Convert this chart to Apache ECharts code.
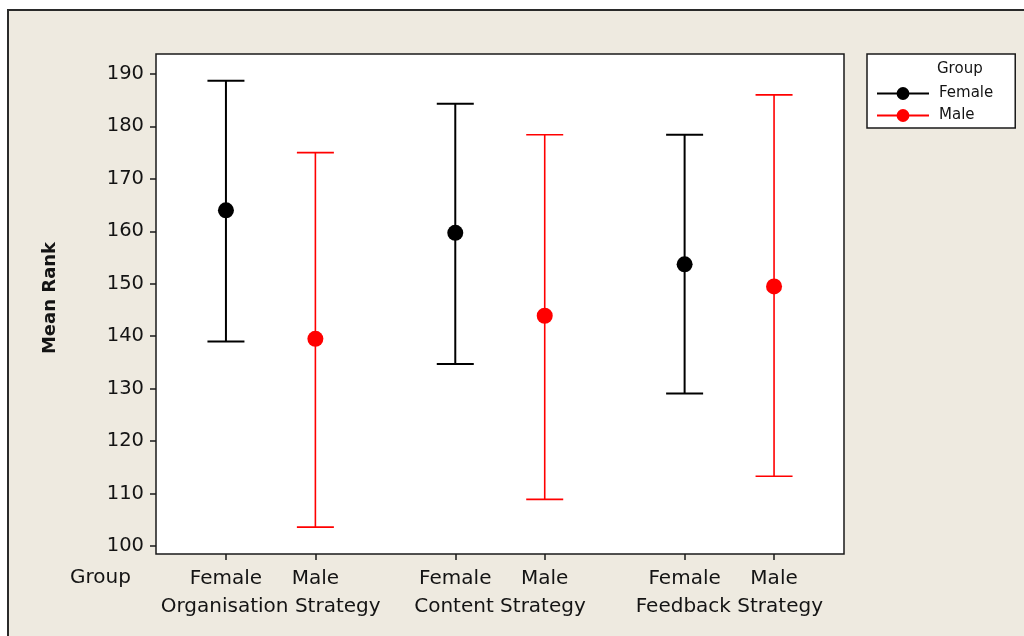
<!DOCTYPE html>
<html>
<head>
<meta charset="utf-8">
<script src="https://cdn.jsdelivr.net/npm/echarts@6/dist/echarts.min.js"></script>
<style>
html,body{margin:0;padding:0;background:#fff;}
#chart{width:1024px;height:636px;}
</style>
</head>
<body>
<div id="chart"></div>
<script>
// ---- data ----
const strategies = ['Organisation Strategy', 'Content Strategy', 'Feedback Strategy'];
const groups = ['Female', 'Male'];
const femaleLow  = [139.0, 134.7, 129.1];
const femaleMean = [164.0, 159.7, 153.7];
const femaleHigh = [188.7, 184.3, 178.4];
const maleLow    = [103.6, 108.9, 113.3];
const maleMean   = [139.5, 143.9, 149.5];
const maleHigh   = [175.0, 178.4, 186.0];
const yTicks = [100, 110, 120, 130, 140, 150, 160, 170, 180, 190];

// ---- layout helpers ----
const OFFSET = 0.195; // within-group offset in category-band units
const FONT = 'DejaVu Sans';
const TXT = '#141414';
const colors = { Female: '#000000', Male: '#ff0000' };

function buildData(lo, mean, hi, sign) {
  return strategies.map((s, i) => [i + sign * OFFSET, lo[i], mean[i], hi[i]]);
}
const tickPositions = [];
strategies.forEach((s, i) => { tickPositions.push(i - OFFSET, i + OFFSET); });

function makeRender(color, lw) {
  return function (params, api) {
    const x = api.value(0);
    const pHi = api.coord([x, api.value(3)]);
    const pLo = api.coord([x, api.value(1)]);
    const pM = api.coord([x, api.value(2)]);
    const half = 18.5;
    return {
      type: 'group',
      children: [
        { type: 'line', shape: { x1: pHi[0], y1: pHi[1], x2: pLo[0], y2: pLo[1] }, style: { stroke: color, lineWidth: lw } },
        { type: 'line', shape: { x1: pHi[0] - half, y1: pHi[1], x2: pHi[0] + half, y2: pHi[1] }, style: { stroke: color, lineWidth: lw } },
        { type: 'line', shape: { x1: pLo[0] - half, y1: pLo[1], x2: pLo[0] + half, y2: pLo[1] }, style: { stroke: color, lineWidth: lw } },
        { type: 'circle', shape: { cx: pM[0], cy: pM[1], r: 8 }, style: { fill: color } }
      ]
    };
  };
}

const chart = echarts.init(document.getElementById('chart'), null, { renderer: 'canvas' });
chart.setOption({
  backgroundColor: '#ffffff',
  animation: false,
  textStyle: { fontFamily: FONT, color: TXT },
  graphic: [
    { type: 'rect', z: -100, silent: true, shape: { x: 8, y: 10, width: 1100, height: 700 },
      style: { fill: '#EEEAE0', stroke: '#2a2a2a', lineWidth: 2 } },
    { type: 'text', z: 100, left: 70, top: 568, style: { text: 'Group', font: '20px "DejaVu Sans"', fill: TXT } },
    { type: 'text', z: 100, left: 937, top: 62, style: { text: 'Group', font: '15px "DejaVu Sans"', fill: TXT } }
  ],
  grid: {
    left: 156, right: 180, top: 54, bottom: 82,
    show: true, backgroundColor: '#ffffff', borderColor: '#1a1a1a', borderWidth: 1.5
  },
  legend: {
    orient: 'vertical',
    left: 867, top: 54,
    padding: [32, 22, 5, 9],
    itemWidth: 52, itemHeight: 16, itemGap: 7,
    backgroundColor: '#ffffff', borderColor: '#1a1a1a', borderWidth: 1.5, borderRadius: 0,
    textStyle: { fontFamily: FONT, fontSize: 15, color: TXT, padding: [0, 0, 0, 5] },
    data: groups
  },
  xAxis: [
    {
      type: 'category', data: strategies, position: 'bottom',
      axisLine: { show: false }, axisTick: { show: false }, splitLine: { show: false },
      axisLabel: { interval: 0, margin: 43, fontSize: 20, color: TXT, fontFamily: FONT }
    },
    {
      type: 'value', min: -0.5, max: 2.5, position: 'bottom',
      axisLine: { show: false }, splitLine: { show: false },
      axisTick: { show: true, inside: false, length: 6, customValues: tickPositions, lineStyle: { color: '#1a1a1a', width: 1.5 } },
      axisLabel: {
        show: true, margin: 15, fontSize: 20, color: TXT, fontFamily: FONT,
        customValues: tickPositions,
        formatter: v => (v < Math.round(v) ? groups[0] : groups[1])
      }
    }
  ],
  yAxis: {
    type: 'value', min: 98.48, max: 193.8,
    name: 'Mean Rank', nameLocation: 'middle', nameRotate: 90, nameGap: 97,
    nameTextStyle: { fontFamily: FONT, fontSize: 18, fontWeight: 'bold', color: TXT, padding: [0, 0, 0, 12] },
    axisLine: { show: false, onZero: false }, splitLine: { show: false },
    axisTick: { show: true, length: 6, customValues: yTicks, lineStyle: { color: '#1a1a1a', width: 1.5 } },
    axisLabel: { margin: 12, fontSize: 19.5, color: TXT, fontFamily: FONT, customValues: yTicks }
  },
  series: [
    { name: 'Female', type: 'line', xAxisIndex: 1, data: [], symbol: 'circle', color: colors.Female, lineStyle: { width: 1.5 } },
    { name: 'Male', type: 'line', xAxisIndex: 1, data: [], symbol: 'circle', color: colors.Male, lineStyle: { width: 1.5 } },
    { name: 'Female', type: 'custom', xAxisIndex: 1, renderItem: makeRender(colors.Female, 2), color: colors.Female,
      data: buildData(femaleLow, femaleMean, femaleHigh, -1), encode: { x: 0, y: [1, 2, 3] }, clip: false, z: 3 },
    { name: 'Male', type: 'custom', xAxisIndex: 1, renderItem: makeRender(colors.Male, 1.6), color: colors.Male,
      data: buildData(maleLow, maleMean, maleHigh, 1), encode: { x: 0, y: [1, 2, 3] }, clip: false, z: 3 }
  ]
});
</script>
</body>
</html>
